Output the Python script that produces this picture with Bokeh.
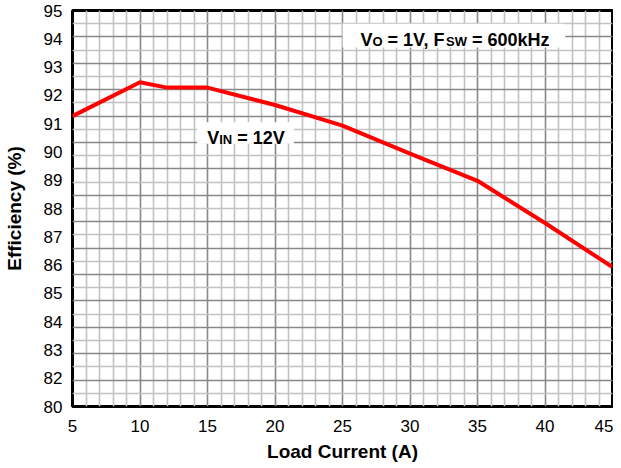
import numpy as np
from bokeh.plotting import figure
from bokeh.models import FixedTicker, Label, BoxAnnotation
from bokeh.embed import file_html
from bokeh.resources import INLINE

# ---- data ----
load_current = [5, 10, 12, 15, 20, 25, 30, 35, 40, 45]
efficiency = [91.0, 92.28, 92.08, 92.08, 91.42, 90.64, 89.58, 88.55, 86.95, 85.28]

x_ticks = [5, 10, 15, 20, 25, 30, 35, 40, 45]
x_minor = [v for v in range(5, 46) if v % 5 != 0]
y_grid_major = list(range(80, 96))
y_grid_minor = [v + 0.5 for v in range(80, 95)]
y_tick_labels = ["95", "94", "93", "92", "91", "90", "89", "88", "87", "86",
                 "85", "84", "83", "82", "80"]

FONT = "Liberation Sans"
X0, X1, Y0, Y1 = 5, 45, 80, 95
FW, FH = 540, 396

p = figure(width=607, height=458, output_backend="svg", toolbar_location=None,
           x_range=(X0, X1), y_range=(Y0, Y1),
           frame_width=FW, frame_height=FH,
           min_border_left=66, min_border_right=1, min_border_top=10, min_border_bottom=52)
p.background_fill_color = "white"
p.border_fill_color = "white"
p.outline_line_color = "black"
p.outline_line_width = 3

# grids
p.xgrid.ticker = FixedTicker(ticks=x_ticks, minor_ticks=x_minor)
p.ygrid.ticker = FixedTicker(ticks=y_grid_major, minor_ticks=y_grid_minor)
for g in (p.xgrid, p.ygrid):
    g.grid_line_color = "#888888"
    g.grid_line_width = 1.6
    g.minor_grid_line_color = "#c2c2c2"
    g.minor_grid_line_width = 1.6

# axes
ytick_pos = [round(v, 6) for v in np.linspace(Y1, Y0, len(y_tick_labels))]
p.xaxis.ticker = FixedTicker(ticks=x_ticks)
p.yaxis.ticker = FixedTicker(ticks=ytick_pos)
p.yaxis.major_label_overrides = {v: t for v, t in zip(ytick_pos, y_tick_labels)}
for ax in (p.xaxis, p.yaxis):
    ax.axis_line_color = None
    ax.major_tick_line_color = None
    ax.minor_tick_line_color = None
    ax.major_label_text_font = FONT
    ax.major_label_text_font_size = "17px"
    ax.major_label_text_color = "black"
    ax.axis_label_text_font = FONT
    ax.axis_label_text_font_size = "19px"
    ax.axis_label_text_font_style = "bold"
    ax.axis_label_text_color = "black"
p.xaxis.axis_label = "Load Current (A)"
p.yaxis.axis_label = "Efficiency (%)"
p.xaxis.major_label_standoff = 7
p.yaxis.major_label_standoff = 4
p.xaxis.axis_label_standoff = 6
p.yaxis.axis_label_standoff = 16

# data line
p.line(load_current, efficiency, line_color="#ff0000", line_width=4)

# annotations
ypx = FH / (Y1 - Y0)
ADV = {"A": 722, "C": 722, "F": 611, "H": 722, "I": 278, "L": 611, "N": 722, "O": 778,
       "S": 667, "V": 667, "W": 944, "k": 556, "z": 500, " ": 278, "\u00a0": 278,
       "=": 584, ",": 278}
for d in "0123456789":
    ADV[d] = 556


def tw(s, size):
    return sum(ADV[c] for c in s) * size / 1000.0


def rich(x, y, pieces):
    off = 0.0
    for txt, size, sub in pieces:
        txt = txt.replace(" ", "\u00a0")
        yy = y - (1.3 / ypx if sub else 0)
        p.add_layout(Label(x=x, y=yy, x_offset=off, text=txt, text_font=FONT,
                           text_font_size=f"{size}px", text_font_style="bold",
                           text_color="black", text_baseline="alphabetic", text_align="left"))
        off += tw(txt, size)


M, S = 18, 13
p.add_layout(BoxAnnotation(left=25.0, right=41.5, bottom=93.6, top=94.5,
                           fill_color="white", fill_alpha=1, line_color=None))
rich(26.33, 93.89, [("V", M, False), ("O", S, True), (" = 1V, F", M, False),
                    ("SW", S, True), (" = 600kHz", M, False)])

p.add_layout(BoxAnnotation(left=14.24, right=21.39, bottom=89.95, top=90.77,
                           fill_color="white", fill_alpha=1, line_color=None))
rich(14.98, 90.16, [("V", M, False), ("IN", S, True), (" = 12V", M, False)])

open("out.html", "w").write(file_html(p, INLINE))
